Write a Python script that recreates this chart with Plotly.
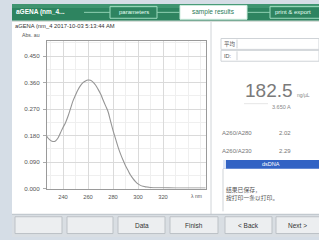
import plotly.graph_objects as go

W, H = 319, 240

# ---- data ----
wavelength_nm = [227, 228, 230, 232, 234, 236, 238, 240, 242, 244, 246, 248, 250, 252, 254, 256,
                 258, 260, 262, 264, 266, 268, 270, 272, 274, 276, 278, 280, 282, 284, 286, 288,
                 290, 292, 294, 296, 298, 300, 302, 304, 306, 308, 310, 315, 320, 330, 340, 350, 354]
absorbance = [0.178, 0.172, 0.164, 0.160, 0.162, 0.172, 0.190, 0.208, 0.224, 0.246, 0.272, 0.298,
              0.318, 0.336, 0.350, 0.360, 0.366, 0.369, 0.368, 0.362, 0.352, 0.338, 0.322, 0.302,
              0.282, 0.262, 0.230, 0.198, 0.170, 0.142, 0.118, 0.097, 0.078, 0.062, 0.046, 0.034,
              0.024, 0.016, 0.011, 0.008, 0.006, 0.005, 0.004, 0.003, 0.003, 0.002, 0.002, 0.002, 0.002]
x_ticks = [240, 260, 280, 300, 320]
y_ticks = [0.0, 0.09, 0.18, 0.27, 0.36, 0.45]
y_tick_labels = ["0.000", "0.090", "0.180", "0.270", "0.360", "0.450"]
concentration = "182.5"
ratio_labels = ["A260/A280", "A260/A230"]
ratio_values = ["2.02", "2.29"]
buttons = ["", "", "Data", "Finish", "< Back", "Next >"]


def px(x):
    return x / W


def py(y):
    return 1 - y / H


shapes = []
annotations = []


def rect(x0, y0, x1, y1, fill=None, line=None, lw=1):
    shapes.append(dict(type="rect", xref="paper", yref="paper",
                       x0=px(x0), x1=px(x1), y0=py(y1), y1=py(y0),
                       fillcolor=fill if fill else "rgba(0,0,0,0)",
                       line=dict(color=line if line else "rgba(0,0,0,0)", width=lw if line else 0),
                       layer="below"))


def hline(x0, x1, y, color, lw=1):
    shapes.append(dict(type="line", xref="paper", yref="paper",
                       x0=px(x0), x1=px(x1), y0=py(y), y1=py(y),
                       line=dict(color=color, width=lw), layer="above"))


def vline(x, y0, y1, color, lw=1):
    shapes.append(dict(type="line", xref="paper", yref="paper",
                       x0=px(x), x1=px(x), y0=py(y0), y1=py(y1),
                       line=dict(color=color, width=lw), layer="above"))


def text(x, y, s, size=5, color="#444", anchor="left", family="Liberation Sans, Noto Sans CJK SC", bold=False):
    if bold:
        s = "<b>" + s + "</b>"
    annotations.append(dict(xref="paper", yref="paper", x=px(x), y=py(y), text=s,
                            showarrow=False, xanchor=anchor, yanchor="middle",
                            font=dict(size=size, color=color, family=family), borderpad=0))


# background strip / window
rect(12, 21, 319, 217, fill="#ffffff")
# header
rect(12, 4, 319, 21, fill="#2e8460")
rect(12, 4, 319, 8, fill="#3f9470")
text(15, 12.5, "aGENA (nm_4...", size=6.5, color="#ffffff", bold=True)
hline(84, 110, 12.5, "#8fd0b2")
rect(110, 6.5, 157, 18.5, line="#9fdcc0")
text(133.5, 12.5, "parameters", size=6, color="#e8fff4", anchor="center")
hline(157, 180, 12.5, "#8fd0b2")
rect(180, 5.5, 247, 19.5, fill="#ffffff", line="#cfeee0")
text(213.5, 12.5, "sample results", size=6.5, color="#2b7b58", anchor="center")
hline(247, 270, 12.5, "#8fd0b2")
rect(270, 6.5, 330, 18.5, line="#9fdcc0")
text(274, 12.5, "print & export", size=6, color="#e8fff4")

# title row
hline(12, 319, 21.5, "#c9d3cc")
text(14, 26.5, "aGENA (nm_4 2017-10-03 5:13:44 AM", size=5.8, color="#333")
text(21, 35, "Abs. au", size=5.2, color="#555")

# separators
vline(211, 22, 217, "#d0d4d8")

# right panel fields
rect(221, 39, 319, 50, line="#cfd3d7")
text(223, 44.5, "平均", size=5.5, color="#555")
vline(237, 40, 49, "#cfd3d7")
rect(221, 51, 319, 62, line="#cfd3d7")
text(223, 56.5, "ID:", size=5.5, color="#555")
vline(237, 52, 61, "#cfd3d7")

text(294, 92, concentration, size=19, color="#7a7a7a", anchor="right", family="Liberation Sans")
text(296, 96.5, "ng/µL", size=5, color="#888")
text(271, 108, "3.650 A", size=5.5, color="#888")
hline(244, 268, 105, "#e6e6e6")

for i, (lab, val) in enumerate(zip(ratio_labels, ratio_values)):
    yy = 135 + i * 18
    text(221, yy, lab, size=6, color="#777")
    text(278, yy, val, size=6, color="#777")

rect(223, 162, 319, 171, fill="#3263c4")
rect(223, 162, 226, 171, fill="#dde6f7")
text(271, 166.5, "dsDNA", size=5.5, color="#ffffff", anchor="center")
vline(223, 171, 214, "#cfd3d7")
text(225, 192, "结果已保存，", size=5.8, color="#555", family="Noto Sans CJK SC")
text(225, 200, "按打印一条以打印。", size=5.8, color="#555", family="Noto Sans CJK SC")

# footer
rect(12, 217, 319, 240, fill="#d9dee3")
hline(12, 319, 217, "#bcc2c8")
btn_x = [(15, 62), (67, 113), (118, 165), (170, 218), (225, 272), (276, 322)]
for (a, b), lab in zip(btn_x, buttons):
    rect(a, 219.5, b, 236.5, fill="#eceef0", line="#bcc1c6")
    if lab:
        cx = (a + b) / 2 if b < 319 else 297
        text(cx, 228, lab, size=6.5, color="#333", anchor="center")

# axis unit label
text(196, 198.5, "λ nm", size=5, color="#555", anchor="center")

fig = go.Figure()
fig.add_trace(go.Scatter(x=wavelength_nm, y=absorbance, mode="lines",
                         line=dict(color="#959595", width=1.1, shape="spline"),
                         hoverinfo="skip", showlegend=False))

fig.update_layout(
    width=W, height=H,
    margin=dict(l=0, r=0, t=0, b=0),
    paper_bgcolor="#d5dde6",
    plot_bgcolor="#ffffff",
    shapes=shapes,
    annotations=annotations,
    showlegend=False,
    xaxis=dict(domain=[px(47), px(206)], range=[227.2, 354.4],
               tickvals=x_ticks, ticktext=[str(v) for v in x_ticks],
               showgrid=True, gridcolor="#dadada", gridwidth=0.8,
               minor=dict(dtick=10, showgrid=True, gridcolor="#efefef", gridwidth=0.6),
               showline=True, linecolor="#9a9a9a", linewidth=1, mirror=True,
               ticks="", tickfont=dict(size=5.8, color="#555", family="Liberation Sans"),
               ticklabelstandoff=2, zeroline=False, fixedrange=True),
    yaxis=dict(domain=[py(191), py(42)], range=[0, 0.5],
               tickvals=y_ticks, ticktext=y_tick_labels,
               showgrid=True, gridcolor="#dadada", gridwidth=0.8,
               minor=dict(tickvals=[0.045, 0.135, 0.225, 0.315, 0.405, 0.495], showgrid=True,
                          gridcolor="#efefef", gridwidth=0.6),
               showline=True, linecolor="#9a9a9a", linewidth=1, mirror=True,
               ticks="outside", ticklen=3, tickcolor="#aaaaaa",
               tickfont=dict(size=6.2, color="#555", family="Liberation Sans"),
               ticklabelstandoff=2, zeroline=False, fixedrange=True),
)

fig.write_html("out.html", config={"displayModeBar": False},
               post_script="document.body.style.margin='0';document.body.style.overflow='hidden';")
